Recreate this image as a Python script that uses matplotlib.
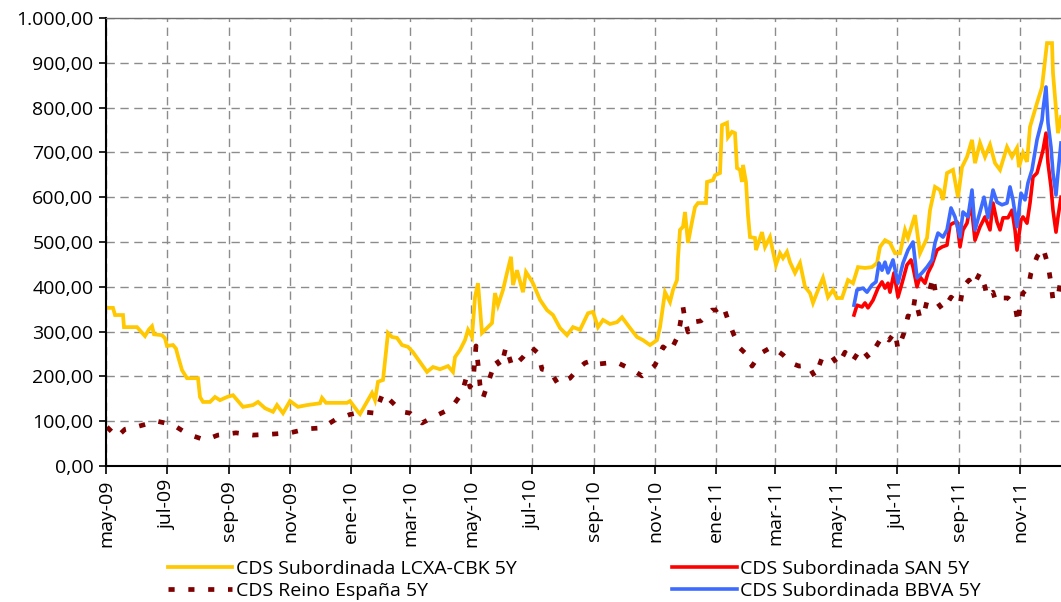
import matplotlib
matplotlib.use("Agg")
import matplotlib.pyplot as plt
import matplotlib.dates as mdates
import pandas as pd
from matplotlib.ticker import FuncFormatter, MultipleLocator

plt.rcParams["font.family"] = ["Open Sans", "DejaVu Sans"]

# CDS Subordinada LCXA-CBK 5Y
lcxa_dates = [
    "2009-05-01", "2009-05-08", "2009-05-10", "2009-05-18", "2009-05-19", "2009-06-01",
    "2009-06-09", "2009-06-13", "2009-06-16", "2009-06-18", "2009-06-26", "2009-06-29",
    "2009-07-01", "2009-07-07", "2009-07-10", "2009-07-12", "2009-07-16", "2009-07-21",
    "2009-08-01", "2009-08-03", "2009-08-06", "2009-08-13", "2009-08-18", "2009-08-23",
    "2009-08-30", "2009-09-05", "2009-09-15", "2009-09-25", "2009-09-30", "2009-10-07",
    "2009-10-15", "2009-10-19", "2009-10-25", "2009-11-01", "2009-11-09", "2009-11-18",
    "2009-12-01", "2009-12-03", "2009-12-07", "2009-12-28", "2009-12-31", "2010-01-08",
    "2010-01-10", "2010-01-22", "2010-01-25", "2010-01-28", "2010-02-02", "2010-02-07",
    "2010-02-11", "2010-02-16", "2010-02-21", "2010-02-27", "2010-03-04", "2010-03-11",
    "2010-03-18", "2010-03-24", "2010-03-31", "2010-04-08", "2010-04-13", "2010-04-15",
    "2010-04-20", "2010-04-25", "2010-04-28", "2010-05-02", "2010-05-05", "2010-05-08",
    "2010-05-12", "2010-05-17", "2010-05-22", "2010-05-25", "2010-05-28", "2010-06-02",
    "2010-06-06", "2010-06-10", "2010-06-12", "2010-06-16", "2010-06-22", "2010-06-25",
    "2010-06-29", "2010-07-02", "2010-07-09", "2010-07-16", "2010-07-22", "2010-07-29",
    "2010-08-05", "2010-08-11", "2010-08-18", "2010-08-26", "2010-08-31", "2010-09-05",
    "2010-09-10", "2010-09-17", "2010-09-24", "2010-09-29", "2010-10-07", "2010-10-14",
    "2010-10-20", "2010-10-27", "2010-11-03", "2010-11-06", "2010-11-11", "2010-11-16",
    "2010-11-19", "2010-11-23", "2010-11-24", "2010-11-26", "2010-11-29", "2010-12-01",
    "2010-12-04", "2010-12-08", "2010-12-11", "2010-12-14", "2010-12-22", "2010-12-23",
    "2010-12-29", "2010-12-31", "2011-01-05", "2011-01-07", "2011-01-12", "2011-01-13",
    "2011-01-17", "2011-01-20", "2011-01-22", "2011-01-25", "2011-01-27", "2011-01-28",
    "2011-01-31", "2011-02-02", "2011-02-04", "2011-02-09", "2011-02-10", "2011-02-16",
    "2011-02-19", "2011-02-24", "2011-02-27", "2011-03-02", "2011-03-06", "2011-03-09",
    "2011-03-13", "2011-03-16", "2011-03-21", "2011-03-26", "2011-03-31", "2011-04-05",
    "2011-04-08", "2011-04-15", "2011-04-18", "2011-04-23", "2011-04-28", "2011-05-02",
    "2011-05-07", "2011-05-13", "2011-05-18", "2011-05-23", "2011-05-30", "2011-06-06",
    "2011-06-11", "2011-06-14", "2011-06-19", "2011-06-24", "2011-06-29", "2011-07-04",
    "2011-07-09", "2011-07-12", "2011-07-19", "2011-07-24", "2011-07-31", "2011-08-03",
    "2011-08-08", "2011-08-13", "2011-08-16", "2011-08-20", "2011-08-26", "2011-08-31",
    "2011-09-04", "2011-09-09", "2011-09-14", "2011-09-17", "2011-09-22", "2011-09-27",
    "2011-10-02", "2011-10-07", "2011-10-12", "2011-10-19", "2011-10-24", "2011-10-29",
    "2011-10-31", "2011-11-04", "2011-11-08", "2011-11-11", "2011-11-18", "2011-11-23",
    "2011-11-28", "2011-12-03", "2011-12-04", "2011-12-09", "2011-12-12",
]
lcxa = [
    353, 353, 337, 337, 310, 310,
    290, 305, 312, 294, 292, 285,
    268, 270, 262, 245, 214, 196,
    196, 154, 143, 143, 154, 147,
    154, 158, 132, 136, 143, 129,
    121, 136, 118, 145, 132, 136,
    140, 152, 141, 141, 145, 121,
    116, 163, 147, 188, 192, 297,
    288, 286, 270, 266, 254, 232,
    210, 221, 216, 223, 210, 243,
    259, 281, 304, 288, 377, 408,
    297, 308, 319, 386, 359, 393,
    431, 467, 404, 437, 388, 433,
    419, 408, 371, 348, 337, 308,
    292, 310, 304, 341, 344, 310,
    326, 317, 321, 332, 308, 288,
    281, 270, 281, 310, 388, 366,
    393, 415, 464, 527, 534, 567,
    498, 545, 578, 587, 587, 634,
    638, 649, 654, 761, 766, 734,
    746, 743, 665, 661, 634, 672,
    634, 560, 511, 509, 482, 522,
    489, 511, 478, 449, 475, 464,
    478, 455, 431, 453, 400, 386,
    364, 404, 420, 377, 393, 375,
    375, 415, 408, 444, 442, 444,
    453, 489, 504, 498, 475, 475,
    527, 509, 560, 475, 509, 571,
    623, 616, 594, 654, 661, 600,
    667, 690, 728, 676, 721, 690,
    717, 676, 661, 712, 690, 710,
    667, 699, 679, 757, 810, 846,
    944, 944, 877, 743, 779,
]

# CDS Reino España 5Y
spain_dates = [
    "2009-05-02", "2009-05-12", "2009-05-20", "2009-06-03", "2009-06-21", "2009-07-07",
    "2009-07-22", "2009-08-08", "2009-08-21", "2009-09-08", "2009-09-25", "2009-10-13",
    "2009-11-01", "2009-11-18", "2009-12-03", "2009-12-16", "2009-12-31", "2010-01-12",
    "2010-01-25", "2010-01-28", "2010-02-02", "2010-02-09", "2010-02-21", "2010-03-01",
    "2010-03-13", "2010-03-24", "2010-04-06", "2010-04-14", "2010-04-22", "2010-04-27",
    "2010-04-30", "2010-05-03", "2010-05-06", "2010-05-08", "2010-05-10", "2010-05-13",
    "2010-05-18", "2010-05-21", "2010-05-26", "2010-05-31", "2010-06-05", "2010-06-10",
    "2010-06-15", "2010-06-17", "2010-06-22", "2010-06-30", "2010-07-07", "2010-07-11",
    "2010-07-19", "2010-07-27", "2010-08-08", "2010-08-17", "2010-08-23", "2010-09-01",
    "2010-09-07", "2010-09-15", "2010-09-25", "2010-10-10", "2010-10-19", "2010-11-01",
    "2010-11-09", "2010-11-16", "2010-11-23", "2010-11-26", "2010-11-29", "2010-12-01",
    "2010-12-04", "2010-12-09", "2010-12-17", "2010-12-28", "2011-01-01", "2011-01-08",
    "2011-01-13", "2011-01-19", "2011-01-25", "2011-02-01", "2011-02-06", "2011-02-15",
    "2011-02-26", "2011-03-09", "2011-03-17", "2011-03-25", "2011-04-03", "2011-04-10",
    "2011-04-17", "2011-04-26", "2011-05-03", "2011-05-10", "2011-05-17", "2011-05-26",
    "2011-06-03", "2011-06-11", "2011-06-17", "2011-06-23", "2011-06-29", "2011-07-02",
    "2011-07-08", "2011-07-12", "2011-07-16", "2011-07-19", "2011-07-24", "2011-07-28",
    "2011-08-02", "2011-08-06", "2011-08-10", "2011-08-16", "2011-08-24", "2011-09-02",
    "2011-09-05", "2011-09-11", "2011-09-15", "2011-09-22", "2011-09-27", "2011-09-29",
    "2011-10-05", "2011-10-08", "2011-10-15", "2011-10-20", "2011-10-27", "2011-10-30",
    "2011-11-01", "2011-11-04", "2011-11-09", "2011-11-12", "2011-11-18", "2011-11-24",
    "2011-11-29", "2011-12-02", "2011-12-04", "2011-12-09", "2011-12-12",
]
spain = [
    87, 65, 82, 89, 100, 92,
    71, 58, 69, 74, 69, 71,
    74, 83, 85, 103, 115, 121,
    118, 134, 163, 147, 121, 118,
    96, 109, 123, 138, 163, 203,
    176, 188, 268, 228, 181, 152,
    185, 205, 237, 221, 266, 230,
    241, 232, 243, 266, 252, 216,
    212, 183, 196, 219, 230, 237,
    228, 230, 230, 214, 201, 225,
    266, 254, 286, 315, 355, 326,
    299, 321, 324, 348, 348, 359,
    326, 292, 263, 248, 223, 252,
    266, 248, 230, 223, 225, 199,
    241, 248, 225, 254, 232, 263,
    241, 270, 292, 281, 299, 261,
    297, 335, 332, 375, 330, 341,
    386, 422, 366, 348, 377, 359,
    400, 415, 400, 431, 400, 377,
    388, 366, 375, 375, 359, 319,
    355, 386, 397, 431, 467, 487,
    449, 408, 370, 377, 420,
]

# CDS Subordinada SAN 5Y
san_dates = [
    "2011-05-19", "2011-05-22", "2011-05-27", "2011-05-30", "2011-06-02", "2011-06-07",
    "2011-06-12", "2011-06-16", "2011-06-19", "2011-06-22", "2011-06-24", "2011-06-28",
    "2011-07-02", "2011-07-06", "2011-07-11", "2011-07-15", "2011-07-17", "2011-07-21",
    "2011-07-24", "2011-07-29", "2011-08-01", "2011-08-05", "2011-08-10", "2011-08-15",
    "2011-08-20", "2011-08-23", "2011-08-26", "2011-08-30", "2011-09-02", "2011-09-05",
    "2011-09-09", "2011-09-13", "2011-09-17", "2011-09-22", "2011-09-27", "2011-10-02",
    "2011-10-05", "2011-10-09", "2011-10-12", "2011-10-15", "2011-10-20", "2011-10-24",
    "2011-10-27", "2011-10-29", "2011-11-02", "2011-11-04", "2011-11-08", "2011-11-11",
    "2011-11-14", "2011-11-18", "2011-11-21", "2011-11-24", "2011-11-27", "2011-11-29",
    "2011-12-02", "2011-12-04", "2011-12-07", "2011-12-09", "2011-12-12",
]
san = [
    337, 359, 355, 364, 353, 370,
    397, 411, 397, 408, 388, 431,
    377, 408, 449, 460, 444, 400,
    422, 408, 431, 449, 482, 489,
    493, 538, 542, 545, 489, 527,
    542, 587, 504, 534, 556, 527,
    587, 545, 527, 554, 554, 571,
    527, 482, 549, 556, 542, 587,
    645, 654, 679, 705, 743, 676,
    623, 571, 522, 556, 600,
]

# CDS Subordinada BBVA 5Y
bbva_dates = [
    "2011-05-19", "2011-05-22", "2011-05-28", "2011-06-01", "2011-06-06", "2011-06-10",
    "2011-06-13", "2011-06-16", "2011-06-19", "2011-06-22", "2011-06-27", "2011-07-02",
    "2011-07-07", "2011-07-12", "2011-07-17", "2011-07-21", "2011-07-26", "2011-07-31",
    "2011-08-05", "2011-08-08", "2011-08-11", "2011-08-16", "2011-08-20", "2011-08-24",
    "2011-08-28", "2011-09-02", "2011-09-05", "2011-09-10", "2011-09-14", "2011-09-17",
    "2011-09-22", "2011-09-26", "2011-09-30", "2011-10-05", "2011-10-09", "2011-10-14",
    "2011-10-19", "2011-10-22", "2011-10-25", "2011-10-29", "2011-11-02", "2011-11-06",
    "2011-11-09", "2011-11-13", "2011-11-18", "2011-11-23", "2011-11-24", "2011-11-27",
    "2011-11-29", "2011-12-02", "2011-12-04", "2011-12-07", "2011-12-09", "2011-12-12",
]
bbva = [
    359, 393, 397, 388, 404, 411,
    453, 437, 455, 431, 460, 408,
    453, 482, 500, 420, 431, 444,
    460, 498, 520, 511, 527, 576,
    556, 511, 567, 556, 616, 527,
    567, 600, 554, 616, 589, 583,
    587, 623, 594, 534, 609, 594,
    632, 661, 728, 772, 795, 846,
    766, 712, 654, 605, 654, 721,
]

series_labels = [
    "CDS Subordinada LCXA-CBK 5Y",
    "CDS Reino España 5Y",
    "CDS Subordinada SAN 5Y",
    "CDS Subordinada BBVA 5Y",
]
month_names = {1: "ene", 3: "mar", 5: "may", 7: "jul", 9: "sep", 11: "nov"}
x_start, x_end = "2009-05-01", "2011-12-12"

fig = plt.figure(figsize=(10.61, 6.02), dpi=100)
ax = fig.add_axes([106 / 1061, 136 / 602, 955 / 1061, 448 / 602])

h1, = ax.plot(pd.to_datetime(lcxa_dates), lcxa, color="#FFC800", lw=2.7,
              solid_joinstyle="miter", label=series_labels[0])
h2, = ax.plot(pd.to_datetime(spain_dates), spain, color="#7F0000", lw=3.4,
              dashes=(1.3, 2.9), dash_capstyle="butt", label=series_labels[1])
h3, = ax.plot(pd.to_datetime(san_dates), san, color="#FF0000", lw=2.6,
              label=series_labels[2])
h4, = ax.plot(pd.to_datetime(bbva_dates), bbva, color="#3D6BFF", lw=2.6,
              label=series_labels[3])

ax.set_xlim(pd.Timestamp(x_start), pd.Timestamp(x_end))
ax.set_ylim(0, 1000)
ax.yaxis.set_major_locator(MultipleLocator(100))


def es_number(v, _pos):
    s = f"{v:,.2f}"
    return s.replace(",", "X").replace(".", ",").replace("X", ".")


def es_month(v, _pos):
    d = mdates.num2date(v)
    return f"{month_names.get(d.month, '')}-{d.strftime('%y')}"


ax.yaxis.set_major_formatter(FuncFormatter(es_number))
ax.xaxis.set_major_locator(mdates.MonthLocator(bymonth=[1, 3, 5, 7, 9, 11]))
ax.xaxis.set_major_formatter(FuncFormatter(es_month))
ax.tick_params(axis="x", labelrotation=90, labelsize=14, length=6, width=1.2, pad=4)
ax.tick_params(axis="y", labelsize=14, length=5, width=1.2, pad=4)

ax.grid(True, color="#8C8C8C", lw=1.0, dashes=(6, 4))
ax.set_axisbelow(True)
for side in ["left", "bottom"]:
    ax.spines[side].set_linewidth(1.5)
    ax.spines[side].set_color("black")
ax.spines["top"].set_color("#707070")
ax.spines["top"].set_linewidth(1.0)
ax.spines["right"].set_visible(False)

fig.legend(
    handles=[h1, h2, h3, h4],
    labels=series_labels,
    ncol=2,
    loc="upper left",
    bbox_to_anchor=(168 / 1061, 1 - 560 / 602),
    frameon=False,
    fontsize=14,
    handlelength=3.3,
    handletextpad=0.2,
    columnspacing=8.0,
    labelspacing=0.2,
    borderpad=0,
    borderaxespad=0,
)

fig.savefig("out.png", dpi=100)
